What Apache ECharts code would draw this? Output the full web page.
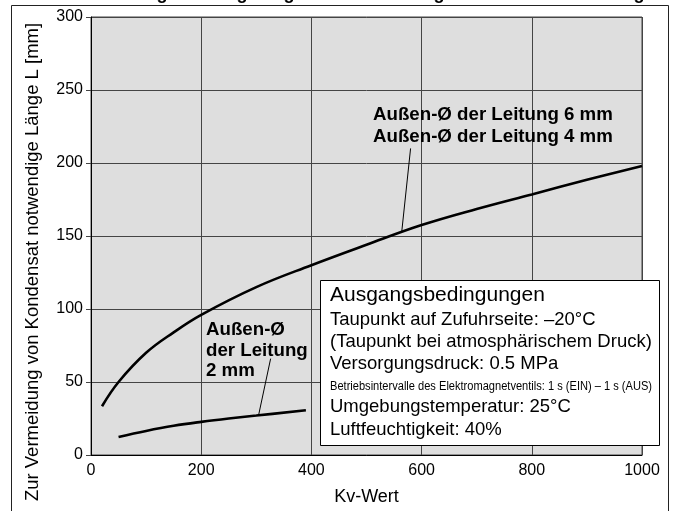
<!DOCTYPE html>
<html><head><meta charset="utf-8">
<script src="https://cdn.jsdelivr.net/npm/echarts@6/dist/echarts.min.js"></script>
<style>html,body{margin:0;padding:0;background:#fff}#c{width:675px;height:511px}</style>
</head><body><div id="c"></div>
<script>
// Kv values and required length L [mm]
const kv46 = [20, 50, 100, 150, 200, 300, 400, 500, 600, 700, 800, 900, 1000];
const len46 = [33.4, 50, 70, 84, 96, 115, 130, 144, 157.5, 168.5, 178.5, 188.5, 198];
const kv2 = [50, 100, 150, 200, 250, 300, 390];
const len2 = [12.4, 16.5, 20, 22.7, 25, 27, 30.6];
const xTicks = [0, 200, 400, 600, 800, 1000];
const yTicks = [0, 50, 100, 150, 200, 250, 300];
const label46 = ['Außen-Ø der Leitung 6 mm', 'Außen-Ø der Leitung 4 mm'];
const label2 = ['Außen-Ø', 'der Leitung', '2 mm'];
const leader46 = [[580, 210], [564, 153]];
const leader2 = [[326, 66], [304, 27]];
const condTitle = 'Ausgangsbedingungen';
const condLines = [
  'Taupunkt auf Zufuhrseite: –20°C',
  '(Taupunkt bei atmosphärischem Druck)',
  'Versorgungsdruck: 0.5 MPa',
  'Betriebsintervalle des Elektromagnetventils: 1 s (EIN) – 1 s (AUS)',
  'Umgebungstemperatur: 25°C',
  'Luftfeuchtigkeit: 40%'
];
const xName = 'Kv-Wert';
const yName = 'Zur Vermeidung von Kondensat notwendige Länge L [mm]';
const topTitle = 'Notwendige Leitungslänge zur Vermeidung von Kondensatbildung';

const FONT = '"Liberation Sans", Arial, Helvetica, sans-serif';
const chart = echarts.init(document.getElementById('c'), null, {renderer: 'canvas'});

const pair = (xs, ys) => xs.map((x, i) => [x, ys[i]]);

// width of the condensed line in the reference box
const smallFont = '12.5px "Liberation Sans", Arial, sans-serif';
const mctx = document.createElement('canvas').getContext('2d');
mctx.font = smallFont;
const smallScale = 322 / mctx.measureText(condLines[3]).width;

const condGraphics = [];
condGraphics.push({type: 'rect', shape: {x: 320.5, y: 280.5, width: 339, height: 165},
  style: {fill: '#fff', stroke: '#000', lineWidth: 1}, z: 100});
condGraphics.push({type: 'text', x: 330, y: 295, z: 101,
  style: {text: condTitle, font: '21px ' + FONT, fill: '#000', textVerticalAlign: 'middle'}});
const condY = [319.5, 341.5, 363.5, 386.5, 406.5, 429.5];
condLines.forEach((t, i) => {
  const small = i === 3;
  condGraphics.push({type: 'text', x: 330, y: condY[i], z: 101,
    scaleX: small ? smallScale : 1, originX: 0,
    style: {text: t, font: small ? smallFont : '18.5px ' + FONT,
      fill: '#000', textVerticalAlign: 'middle'}});
});

const boldText = (t, x, y) => ({type: 'text', x: x, y: y, z: 50,
  style: {text: t, font: 'bold 18.7px ' + FONT, fill: '#000', textVerticalAlign: 'middle'}});

const option = {
  animation: false,
  backgroundColor: '#fff',
  grid: {left: 91, right: 33, top: 17, bottom: 56, show: true, backgroundColor: '#dedede',
    borderColor: '#444', borderWidth: 1},
  xAxis: {type: 'value', min: xTicks[0], max: xTicks[xTicks.length - 1], interval: 200,
    name: xName, nameLocation: 'middle', nameGap: 33,
    nameTextStyle: {fontSize: 18, fontFamily: FONT, color: '#000'},
    axisLine: {show: true, onZero: false, lineStyle: {color: '#000', width: 1}},
    axisTick: {show: false},
    axisLabel: {fontSize: 16, fontFamily: FONT, color: '#000', margin: 8, formatter: v => String(v)},
    splitLine: {show: true, lineStyle: {color: '#444', width: 1}}},
  yAxis: {type: 'value', min: yTicks[0], max: yTicks[yTicks.length - 1], interval: 50,
    axisLine: {show: true, lineStyle: {color: '#000', width: 1}},
    axisTick: {show: true, length: 5, inside: false, lineStyle: {color: '#444'}},
    axisLabel: {fontSize: 16, fontFamily: FONT, color: '#000', margin: 8, formatter: v => String(v)},
    splitLine: {show: true, lineStyle: {color: '#444', width: 1}}},
  series: [
    {name: label46.join(' / '), type: 'line', data: pair(kv46, len46), smooth: 0.4, showSymbol: false,
      lineStyle: {color: '#000', width: 2.6}, z: 5,
      markLine: {silent: true, symbol: ['none', 'none'], label: {show: false},
        lineStyle: {color: '#000', width: 1, type: 'solid'},
        data: [[{coord: leader46[0]}, {coord: leader46[1]}]]}},
    {name: label2.join(' '), type: 'line', data: pair(kv2, len2), smooth: 0.4, showSymbol: false,
      lineStyle: {color: '#000', width: 2.6}, z: 5,
      markLine: {silent: true, symbol: ['none', 'none'], label: {show: false},
        lineStyle: {color: '#000', width: 1, type: 'solid'},
        data: [[{coord: leader2[0]}, {coord: leader2[1]}]]}}
  ],
  graphic: [
    {type: 'rect', shape: {x: 11.5, y: 5.5, width: 657, height: 530}, silent: true,
      style: {fill: 'none', stroke: '#222', lineWidth: 1}, z: 0},
    {type: 'text', x: 360, y: 3, style: {text: topTitle, font: 'bold 18px ' + FONT, fill: '#000',
      textAlign: 'center', textVerticalAlign: 'bottom'}},
    {type: 'text', x: 33, y: 262, rotation: Math.PI / 2,
      style: {text: yName, font: '18.5px ' + FONT, fill: '#000', textAlign: 'center', textVerticalAlign: 'middle'}},
    boldText(label46[0], 373, 115),
    boldText(label46[1], 373, 137),
    boldText(label2[0], 206, 330),
    boldText(label2[1], 206, 351),
    boldText(label2[2], 206, 370.5)
  ].concat(condGraphics)
};
chart.setOption(option);
</script>
</body></html>
